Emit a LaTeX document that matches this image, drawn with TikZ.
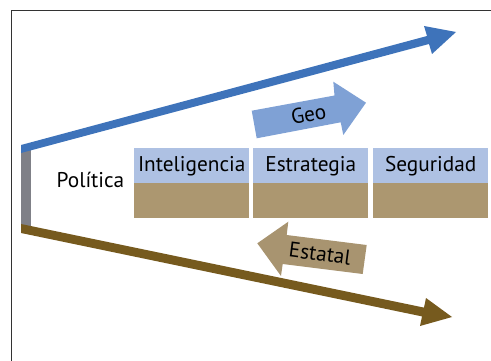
\documentclass[tikz,border=0pt]{standalone}
\usepackage{fontspec}
\setmainfont{PT Sans}
\definecolor{bigblue}{HTML}{3E73BA}
\definecolor{bigbrown}{HTML}{765A1E}
\definecolor{barGray}{HTML}{7F8087}
\definecolor{lightblue}{HTML}{AEC1E3}
\definecolor{tan}{HTML}{AC9770}
\definecolor{geoblue}{HTML}{7FA1D5}
\definecolor{estan}{HTML}{A89470}
\tikzset{
  upbox/.style={fill=lightblue, minimum width=115pt, minimum height=35pt, inner sep=0pt, anchor=north west},
  lowbox/.style={fill=tan, minimum width=115pt, minimum height=35pt, inner sep=0pt, anchor=north west},
  lbl/.style={font=\fontsize{21.3}{24}\selectfont, inner sep=0pt},
}
\begin{document}
\begin{tikzpicture}[x=1pt,y=-1pt]
\useasboundingbox (0,0) rectangle (491,361);
% frame
\draw[line width=1pt, black!80] (11,361) -- (11,10.5) -- (491,10.5);
% gray bar
\fill[barGray] (21,150) rectangle (31,228);
% blue arrow
\fill[bigblue] (21,145) -- (427,36) -- (424,26) -- (456,32) -- (432,54) -- (429,44) -- (21,153) -- cycle;
% brown arrow
\fill[bigbrown] (21,224) -- (424,307.6) -- (426,298) -- (452,317) -- (420,326) -- (422,316.4) -- (21,233) -- cycle;
% boxes
\node[upbox] (i1) at (134,148) {};
\node[lowbox] (i2) at (134,183) {};
\node[upbox] (e1) at (253,148) {};
\node[lowbox] (e2) at (253,183) {};
\node[upbox] (s1) at (373,148) {};
\node[lowbox] (s2) at (373,183) {};
\node[lbl, anchor=base] (ti) at ([yshift=-6pt]i1.center) {Inteligencia};
\node[lbl, anchor=base] (te) at ([yshift=-6pt]e1.center) {Estrategia};
\node[lbl, anchor=base] (ts) at ([yshift=-6pt]s1.center) {Seguridad};
\node[lbl, anchor=base] (pol) at (90.5,188) {Política};
% Geo arrow
\fill[geoblue] (251.7,110.7) -- (334.5,95.5) -- (333.3,81.7) -- (366,102.7) -- (343.3,135) -- (340.7,122.3) -- (256.7,138.3) -- cycle;
\node[lbl, rotate=10.5] (geo) at (308.5,114) {Geo};
% Estatal arrow
\fill[estan] (366.7,245) -- (286.7,235) -- (288.3,221.7) -- (257.3,243.3) -- (281,276) -- (282.7,264) -- (362.7,274) -- cycle;
\node[lbl, rotate=-7.5] (est) at (320,253.5) {Estatal};
\end{tikzpicture}
\end{document}
